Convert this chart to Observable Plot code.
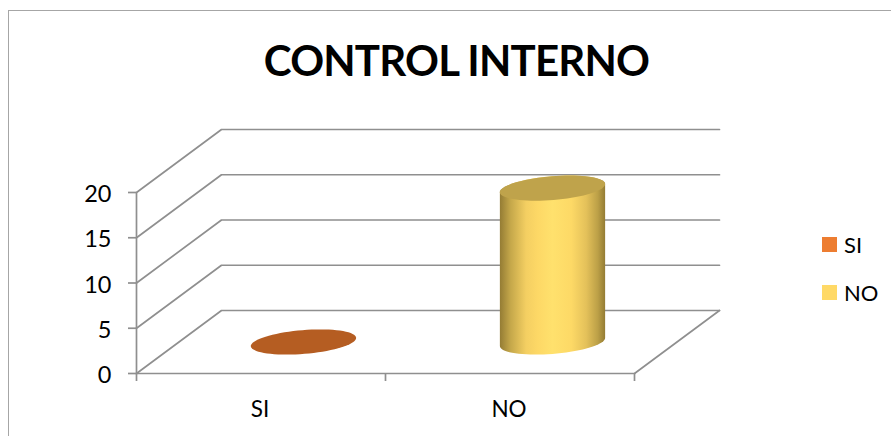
<!DOCTYPE html>
<html>
<head>
<meta charset="utf-8">
<script src="https://cdn.jsdelivr.net/npm/d3@7"></script>
<script src="https://cdn.jsdelivr.net/npm/@observablehq/plot@0.6"></script>
<style>
  html, body { margin: 0; background: #fff; }
  #chart { position: relative; width: 891px; height: 436px; overflow: hidden; font-family: Lato, sans-serif; color: #000; }
  #frame { position: absolute; left: 8px; top: 10px; right: -4px; bottom: -4px; border: 1px solid #a6a6a6; }
  #title { position: absolute; left: 0; top: 34px; width: 913px; text-align: center; font-size: 42px; line-height: 52px; font-weight: 700; letter-spacing: -0.8px; }
  .key { position: absolute; left: 822px; display: flex; align-items: center; font-size: 22px; line-height: 15px; }
  .key i { display: block; width: 15px; height: 15px; margin-right: 7px; }
  #chart svg { position: absolute; left: 0; top: 0; background: transparent; }
</style>
</head>
<body>
<div id="chart">
  <div id="frame"></div>
  <div id="title"></div>
</div>
<script>
// Survey result: answers to the internal-control question
const chartTitle = "CONTROL INTERNO";
const categories = ["SI", "NO"];
const counts = [0, 17];
const yTicks = [0, 5, 10, 15, 20];
const legendColors = ["#ed7d31", "#ffd966"];
const capColors = ["#b55d22", "#bfa34b"];

// Oblique projection of the floor depth, expressed in axis units
const depthX = 85 / 249;
const depthY = 63 / 9.05;
const project = (cat, value, depth) => ({x: cat + depth * depthX, y: value + depth * depthY});

// Walls and floor: one polyline per value gridline
const gridLines = yTicks.flatMap((v) => [
  {id: v, ...project(0, v, 0)},
  {id: v, ...project(0, v, 1)},
  {id: v, ...project(2, v, 1)}
]);
const floorEdges = [
  {id: "front", ...project(0, 0, 0)},
  {id: "front", ...project(2, 0, 0)},
  {id: "side", ...project(2, 0, 0)},
  {id: "side", ...project(2, 0, 1)},
  {id: "axis", ...project(0, 0, 0)},
  {id: "axis", ...project(0, 20, 0)}
];

// Cylinders stand in the middle of the floor; their circular section is projected too
const radius = 0.2;
const steps = d3.range(0, 73).map((i) => (i * 5 * Math.PI) / 180);
const ringPoint = (cat, value, t) =>
  project(cat + 0.5 + radius * Math.cos(t), value, 0.5 + radius * Math.sin(t));

const caps = categories.flatMap((c, i) =>
  steps.map((t) => ({id: c, fill: capColors[i], ...ringPoint(i, counts[i], t)}))
);

// Silhouette of each wall: lower half of the base ring, then the upper half of the top ring
const tilt = Math.atan2(depthX, 1);
const sides = categories.flatMap((c, i) => {
  if (counts[i] === 0) return [];
  const half = d3.range(0, 37).map((k) => (k * 5 * Math.PI) / 180);
  const lower = half.map((a) => ringPoint(i, 0, Math.PI + tilt + a));
  const upper = half.map((a) => ringPoint(i, counts[i], tilt + a));
  return [...lower, ...upper].map((p) => ({id: c, ...p}));
});

// Horizontal shading of the cylinder wall
const shading = () => {
  const defs = d3.create("svg:defs");
  const grad = defs.append("linearGradient").attr("id", "wall").attr("x1", 0).attr("x2", 1).attr("y1", 0).attr("y2", 0);
  [[0, "#947c34"], [0.1, "#c4a74a"], [0.25, "#f4cf62"], [0.36, "#fdd866"], [0.5, "#ffe16d"],
   [0.68, "#fdd966"], [0.82, "#e4c15a"], [0.93, "#bca047"], [1, "#947c34"]]
    .forEach(([o, c]) => grad.append("stop").attr("offset", o).attr("stop-color", c));
  return defs.node();
};

const lineStyle = {stroke: "#8f8f8f", strokeWidth: 1.7};

const plot = Plot.plot({
  width: 891,
  height: 436,
  marginLeft: 136,
  marginRight: 257,
  marginTop: 192,
  marginBottom: 63,
  style: {fontFamily: "Lato, sans-serif", background: "transparent", overflow: "visible"},
  x: {type: "linear", domain: [0, 2], axis: null},
  y: {type: "linear", domain: [0, 20], axis: null},
  marks: [
    shading,
    Plot.line(gridLines, {x: "x", y: "y", z: "id", ...lineStyle}),
    Plot.line(floorEdges, {x: "x", y: "y", z: "id", ...lineStyle}),
    Plot.ruleY(yTicks, {y: (d) => d, x1: 0, x2: 0, insetLeft: -8, ...lineStyle}),
    Plot.axisY({ticks: yTicks, tickSize: 0, tickPadding: 25, dy: 2, fontSize: 23.5, fill: "#000", fillOpacity: 1, label: null}),
    Plot.ruleX([0, 1, 2], {x: (d) => d, y1: 0, y2: 0, insetBottom: -8, ...lineStyle}),
    Plot.text(categories, {x: (d, i) => i + 0.5, y: 0, text: (d) => d, dy: 36, dx: -1, fontSize: 22.5, fill: "#000"}),
    Plot.line(sides, {x: "x", y: "y", z: "id", stroke: "none", fill: "url(#wall)"}),
    Plot.line(caps, {x: "x", y: "y", z: "id", stroke: "none", fill: "fill"})
  ]
});
document.getElementById("chart").appendChild(plot);
document.getElementById("title").textContent = chartTitle;

// Legend entries beside the plot
categories.forEach((c, i) => {
  const key = document.createElement("div");
  key.className = "key";
  key.style.top = 237 + i * 48 + "px";
  key.innerHTML = `<i style="background:${legendColors[i]}"></i><span>${c}</span>`;
  document.getElementById("chart").appendChild(key);
});
</script>
</body>
</html>
